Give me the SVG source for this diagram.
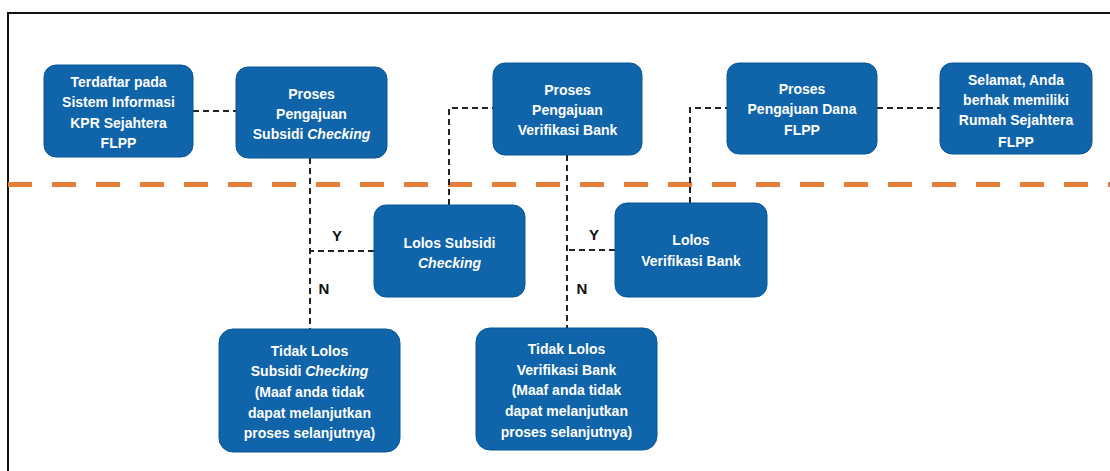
<svg xmlns="http://www.w3.org/2000/svg" width="1110" height="471" viewBox="0 0 1110 471">
<style>
.box{fill:#0F64AA;stroke:#0B5796;stroke-width:1}
.t{font-family:"Liberation Sans",Arial,sans-serif;font-weight:bold;font-size:14px;fill:#FFFFFF;text-anchor:middle}
.c{fill:none;stroke:#222222;stroke-width:2;stroke-dasharray:6 4}
.lbl{font-family:"Liberation Sans",Arial,sans-serif;font-weight:bold;font-size:15px;fill:#111111;text-anchor:middle}
</style>
<rect width="1110" height="471" fill="#FFFFFF"/>
<path d="M8,471 V13 H1110" fill="none" stroke="#111111" stroke-width="2"/>
<line x1="8" y1="184.5" x2="1110" y2="184.5" stroke="#E57E3A" stroke-width="5" stroke-dasharray="24 20"/>
<g id="connectors">
<path class="c" d="M193,111 H236"/>
<path class="c" d="M310,158 V329"/>
<path class="c" d="M374,251 H310"/>
<path class="c" d="M449,205 V108 H493"/>
<path class="c" d="M567,155 V328"/>
<path class="c" d="M615,250 H567"/>
<path class="c" d="M690,203 V108 H727"/>
<path class="c" d="M877,108 H940"/>
<text class="lbl" x="337" y="241">Y</text>
<text class="lbl" x="324" y="294">N</text>
<text class="lbl" x="594" y="240">Y</text>
<text class="lbl" x="582" y="294">N</text>
</g>
<g id="n1">
<rect class="box" x="44" y="65" width="149" height="92" rx="12"/>
<text class="t" x="118.5" y="87">Terdaftar pada</text>
<text class="t" x="118.5" y="107">Sistem Informasi</text>
<text class="t" x="118.5" y="128">KPR Sejahtera</text>
<text class="t" x="118.5" y="148">FLPP</text>
</g>
<g id="n2">
<rect class="box" x="236" y="67" width="151" height="91" rx="12"/>
<text class="t" x="311.5" y="99">Proses</text>
<text class="t" x="311.5" y="119">Pengajuan</text>
<text class="t" x="311.5" y="139">Subsidi <tspan font-style="italic">Checking</tspan></text>
</g>
<g id="n3">
<rect class="box" x="493" y="63" width="149" height="92" rx="12"/>
<text class="t" x="567.5" y="95">Proses</text>
<text class="t" x="567.5" y="115">Pengajuan</text>
<text class="t" x="567.5" y="135">Verifikasi Bank</text>
</g>
<g id="n4">
<rect class="box" x="727" y="63" width="150" height="91" rx="12"/>
<text class="t" x="802" y="94">Proses</text>
<text class="t" x="802" y="114">Pengajuan Dana</text>
<text class="t" x="802" y="135">FLPP</text>
</g>
<g id="n5">
<rect class="box" x="940" y="63" width="152" height="91" rx="12"/>
<text class="t" x="1016" y="85">Selamat, Anda</text>
<text class="t" x="1016" y="105">berhak memiliki</text>
<text class="t" x="1016" y="125">Rumah Sejahtera</text>
<text class="t" x="1016" y="147">FLPP</text>
</g>
<g id="n6">
<rect class="box" x="374" y="205" width="151" height="92" rx="12"/>
<text class="t" x="449.5" y="248">Lolos Subsidi</text>
<text class="t" x="449.5" y="268" font-style="italic">Checking</text>
</g>
<g id="n7">
<rect class="box" x="615" y="203" width="152" height="94" rx="12"/>
<text class="t" x="691" y="245">Lolos</text>
<text class="t" x="691" y="266">Verifikasi Bank</text>
</g>
<g id="n8">
<rect class="box" x="219" y="329" width="181" height="123" rx="14"/>
<text class="t" x="309.5" y="356">Tidak Lolos</text>
<text class="t" x="309.5" y="376">Subsidi <tspan font-style="italic">Checking</tspan></text>
<text class="t" x="309.5" y="397">(Maaf anda tidak</text>
<text class="t" x="309.5" y="418">dapat melanjutkan</text>
<text class="t" x="309.5" y="438">proses selanjutnya)</text>
</g>
<g id="n9">
<rect class="box" x="476" y="328" width="181" height="122" rx="14"/>
<text class="t" x="566.5" y="354">Tidak Lolos</text>
<text class="t" x="566.5" y="375">Verifikasi Bank</text>
<text class="t" x="566.5" y="395">(Maaf anda tidak</text>
<text class="t" x="566.5" y="416">dapat melanjutkan</text>
<text class="t" x="566.5" y="437">proses selanjutnya)</text>
</g>
</svg>
